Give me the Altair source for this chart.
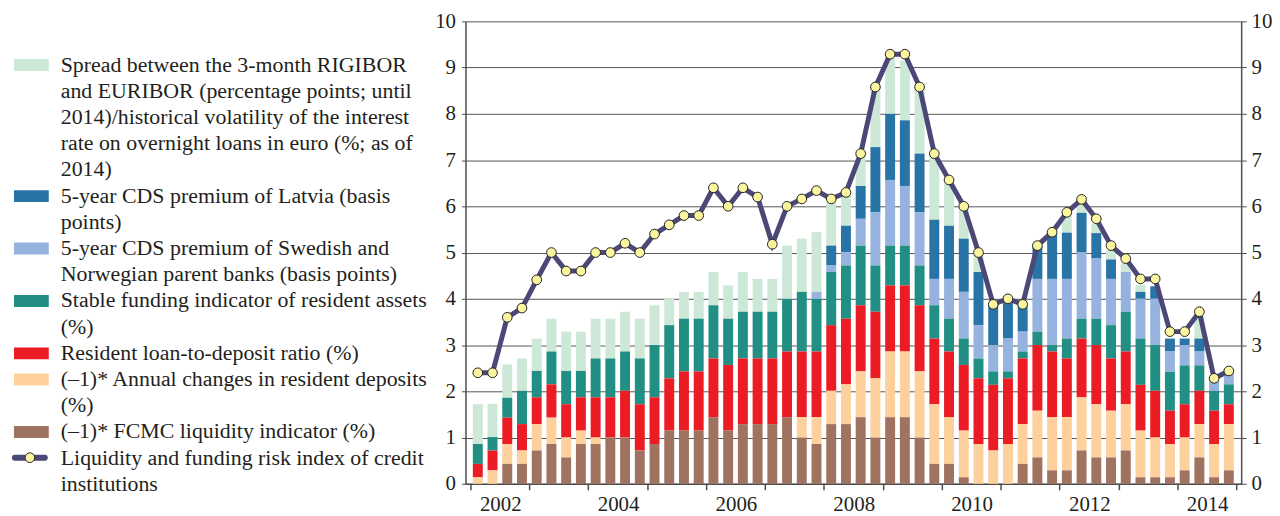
import altair as alt
import pandas as pd

# ---------------- data ----------------
years = list(range(2002, 2015))
quarters = [f"{y} Q{q}" for y in years for q in range(1, 5)]

fcmc = [0.0, 0.0, 0.43, 0.43, 0.72, 0.86, 0.57, 0.86, 0.86, 1.0,
        1.0, 0.72, 0.86, 1.15, 1.15, 1.15, 1.44, 1.15, 1.29, 1.29,
        1.29, 1.44, 1.0, 0.86, 1.29, 1.29, 1.44, 1.0, 1.44, 1.44,
        1.0, 0.43, 0.43, 0.14, 0.0, 0.0, 0.0, 0.43, 0.57, 0.29,
        0.29, 0.72, 0.57, 0.57, 0.72, 0.14, 0.14, 0.14, 0.29, 0.57, 0.14, 0.29]
deposits = [0.14, 0.29, 0.43, 0.29, 0.57, 0.57, 0.43, 0.29, 0.14, 0.0,
            0.0, 0.0, 0.0, 0.0, 0.0, 0.0, 0.0, 0.0, 0.0, 0.0,
            0.0, 0.0, 0.44, 0.58, 0.72, 0.86, 0.99, 1.28, 1.42, 1.42,
            1.43, 1.29, 1.01, 1.01, 0.86, 0.72, 0.86, 0.86, 1.01, 1.15,
            1.15, 1.15, 1.15, 1.01, 1.0, 1.01, 0.86, 0.72, 0.71, 0.72, 0.72, 1.0]
ltd = [0.29, 0.43, 0.57, 0.57, 0.58, 0.72, 0.72, 0.72, 0.87, 0.87,
       1.01, 1.0, 1.01, 1.13, 1.28, 1.28, 1.27, 1.42, 1.42, 1.42,
       1.42, 1.42, 1.42, 1.42, 1.42, 1.42, 1.43, 1.44, 1.43, 1.43,
       1.43, 1.42, 1.42, 1.42, 1.42, 1.42, 1.42, 1.42, 1.42, 1.42,
       1.27, 1.27, 1.28, 1.13, 1.14, 0.99, 1.01, 0.72, 0.72, 0.72, 0.72, 0.43]
stable = [0.43, 0.29, 0.43, 0.72, 0.57, 0.71, 0.72, 0.57, 0.84, 0.84,
          0.85, 0.99, 1.13, 1.15, 1.14, 1.14, 1.15, 1.0, 1.01, 1.01,
          1.01, 1.14, 1.29, 1.14, 1.15, 1.15, 1.29, 1.0, 0.86, 0.86,
          0.86, 0.72, 0.71, 0.57, 0.43, 0.29, 0.15, 0.15, 0.29, 0.14,
          0.43, 0.43, 0.57, 0.72, 0.86, 1.0, 0.99, 0.84, 0.84, 0.55, 0.43, 0.43]
cds_parent = [0.0] * 23 + [0.15, 0.14, 0.29, 0.58, 1.15, 1.42, 1.29,
                           1.15, 0.57, 0.86, 1.01, 0.72, 0.57, 0.71, 0.43, 1.14, 1.43,
                           1.29, 1.43, 1.3, 1.0, 0.86, 0.86, 1.0, 0.44, 0.44, 0.3, 0.27, 0.28]
cds_latvia = [0.0] * 24 + [0.43, 0.57, 0.71, 1.41, 1.43, 1.42,
                           1.27, 1.28, 1.15, 1.15, 1.15, 0.86, 0.8, 0.57, 0.7, 0.98,
                           1.0, 0.86, 0.55, 0.42, 0.0, 0.15, 0.27, 0.28, 0.14, 0.28, 0.0, 0.0]
spread = [0.86, 0.72, 0.72, 0.70, 0.70, 0.71, 0.85, 0.85, 0.86, 0.86,
          0.86, 0.86, 0.86, 0.57, 0.58, 0.58, 0.72, 0.72, 0.86, 0.71,
          0.71, 1.15, 1.15, 1.29, 0.95, 0.72, 0.70, 1.3, 1.29, 1.29,
          1.44, 1.43, 0.99, 0.7, 0.42, 0.0, 0.0, 0.0, 0.0, 0.0,
          0.43, 0.2, 0.2, 0.2, 0.2, 0.15, 0.0, 0.0, 0.0, 0.48, 0.0, 0.0]
risk_index = [2.4, 2.4, 3.6, 3.8, 4.41, 5.0, 4.6, 4.6, 5.0, 5.0,
              5.2, 5.0, 5.4, 5.6, 5.8, 5.8, 6.4, 6.0, 6.4, 6.2,
              5.18, 6.0, 6.16, 6.34, 6.16, 6.3, 7.14, 8.58, 9.29, 9.29,
              8.58, 7.14, 6.57, 6.0, 5.0, 3.88, 4.0, 3.88, 5.15, 5.44,
              5.87, 6.15, 5.73, 5.15, 4.87, 4.43, 4.43, 3.29, 3.29, 3.72, 2.28, 2.44]

# legend entries (top to bottom), wrapped as in the reference
legend_lines = [
    ["Spread between the 3-month RIGIBOR",
     "and EURIBOR (percentage points; until",
     "2014)/historical volatility of the interest",
     "rate on overnight loans in euro (%; as of",
     "2014)"],
    ["5-year CDS premium of Latvia (basis", "points)"],
    ["5-year CDS premium of Swedish and", "Norwegian parent banks (basis points)"],
    ["Stable funding indicator of resident assets", "(%)"],
    ["Resident loan-to-deposit ratio (%)"],
    ["(\u20131)* Annual changes in resident deposits", "(%)"],
    ["(\u20131)* FCMC liquidity indicator (%)"],
    ["Liquidity and funding risk index of credit", "institutions"],
]
series_keys = ["spread", "cds_latvia", "cds_parent", "stable", "ltd", "deposits", "fcmc"]
series_values = [spread, cds_latvia, cds_parent, stable, ltd, deposits, fcmc]
colors = ["#cde8d7", "#2874a6", "#95b3de", "#228f84", "#ec1c24", "#fdd09c", "#a07260"]

LINE_C = "#4b4777"
PT_FILL = "#fcf5a0"
TXT = "#231f20"
AXC = "#4d4d4d"
FONT = "Liberation Serif"

# ---------------- tables ----------------
def tpos(label):
    y, q = label.split(" Q")
    return int(y) + (int(q) - 0.5) / 4

rows = []
for k, (key, vals) in enumerate(zip(series_keys, series_values)):
    stack_order = len(series_keys) - 1 - k  # fcmc at the bottom
    for lab, v in zip(quarters, vals):
        rows.append({"quarter": lab, "t": tpos(lab), "series": key, "value": v, "ord": stack_order})
bars_df = pd.DataFrame(rows)
line_df = pd.DataFrame({"quarter": quarters, "t": [tpos(q) for q in quarters], "index": risk_index})

text_rows, swatch_rows = [], []
r = 0
for e, lines in enumerate(legend_lines):
    swatch_rows.append({"row": r, "entry": e, "color": colors[e] if e < len(colors) else LINE_C})
    for ln in lines:
        text_rows.append({"row": r, "text": ln})
        r += 1
text_df = pd.DataFrame(text_rows)
sw_df = pd.DataFrame(swatch_rows)
n_rows = r - 1

# ---------------- legend panel ----------------
PITCH = 26.35
row_scale = alt.Scale(domain=[0, n_rows], range=[50.5, 50.5 + n_rows * PITCH])

leg_text = alt.Chart(text_df).mark_text(
    align="left", baseline="alphabetic", font=FONT, fontSize=22, color=TXT
).encode(x=alt.value(51), y=alt.Y("row:Q", scale=row_scale, axis=None), text="text:N")

leg_sw = alt.Chart(sw_df).transform_filter("datum.entry < 7").mark_rule(
    strokeWidth=12, strokeCap="butt", yOffset=-6.5
).encode(x=alt.value(4), x2=alt.value(39),
         y=alt.Y("row:Q", scale=row_scale, axis=None),
         color=alt.Color("color:N", scale=None))

leg_line = alt.Chart(sw_df).transform_filter("datum.entry == 7").mark_rule(
    strokeWidth=6, strokeCap="round", color=LINE_C, yOffset=-7
).encode(x=alt.value(5), x2=alt.value(35), y=alt.Y("row:Q", scale=row_scale, axis=None))

leg_pt = alt.Chart(sw_df).transform_filter("datum.entry == 7").mark_point(
    filled=True, fill=PT_FILL, stroke="#222222", strokeWidth=1, size=95, opacity=1, yOffset=-7
).encode(x=alt.value(20), y=alt.Y("row:Q", scale=row_scale, axis=None))

legend_panel = alt.layer(leg_text, leg_sw, leg_line, leg_pt).properties(width=458, height=465)

# ---------------- main chart ----------------
xscale = alt.Scale(domain=[2002, 2015], nice=False, zero=False)
xaxis = alt.Axis(
    values=list(range(2002, 2016)),
    labelExpr="(datum.value % 2 == 0 && datum.value < 2015) ? toString(datum.value) : ''",
    labelOffset=30, tickSize=6, labelPadding=4, grid=False,
    domainColor=AXC, tickColor=AXC, domainWidth=1.5, tickWidth=1.5,
    labelFont=FONT, labelFontSize=21, labelColor=TXT, title=None,
    labelFlush=False, labelOverlap=False, labelBaseline="top",
)
yscale = alt.Scale(domain=[0, 10], nice=False, zero=True)
yaxis_left = alt.Axis(
    values=list(range(0, 11)), tickSize=4, labelPadding=6, grid=True,
    gridColor="#555555", gridWidth=1, domainColor=AXC, tickColor=AXC,
    domainWidth=1.5, labelFont=FONT, labelFontSize=21, labelColor=TXT, title=None,
    labelFlush=False, labelBaseline="middle",
)
yaxis_right = alt.Axis(
    orient="right", values=list(range(0, 11)), tickSize=5, labelPadding=5, grid=False,
    domainColor=AXC, tickColor=AXC, domainWidth=1.5, labelFont=FONT,
    labelFontSize=21, labelColor=TXT, title=None, labelFlush=False, labelBaseline="middle",
)

bars = alt.Chart(bars_df).mark_bar(size=10).encode(
    x=alt.X("t:Q", scale=xscale, axis=xaxis),
    y=alt.Y("value:Q", stack="zero", scale=yscale, axis=yaxis_left),
    color=alt.Color("series:N", scale=alt.Scale(domain=series_keys, range=colors), legend=None),
    order=alt.Order("ord:Q", sort="ascending"),
)

line = alt.Chart(line_df).mark_line(
    color=LINE_C, strokeWidth=5,
    point=alt.OverlayMarkDef(filled=True, fill=PT_FILL, stroke="#222222",
                             strokeWidth=1, size=95, opacity=1),
).encode(
    x=alt.X("t:Q", scale=xscale, axis=xaxis),
    y=alt.Y("index:Q", scale=yscale, axis=yaxis_right),
)

main = alt.layer(bars, line).resolve_axis(y="independent").properties(width=780, height=465)

chart = alt.hconcat(legend_panel, main, spacing=0, bounds="flush").properties(
    padding={"left": 0, "top": 1, "right": 0, "bottom": 0}
).configure_view(stroke=None)

chart.save("out.html", embed_options={"renderer": "svg", "actions": False})
